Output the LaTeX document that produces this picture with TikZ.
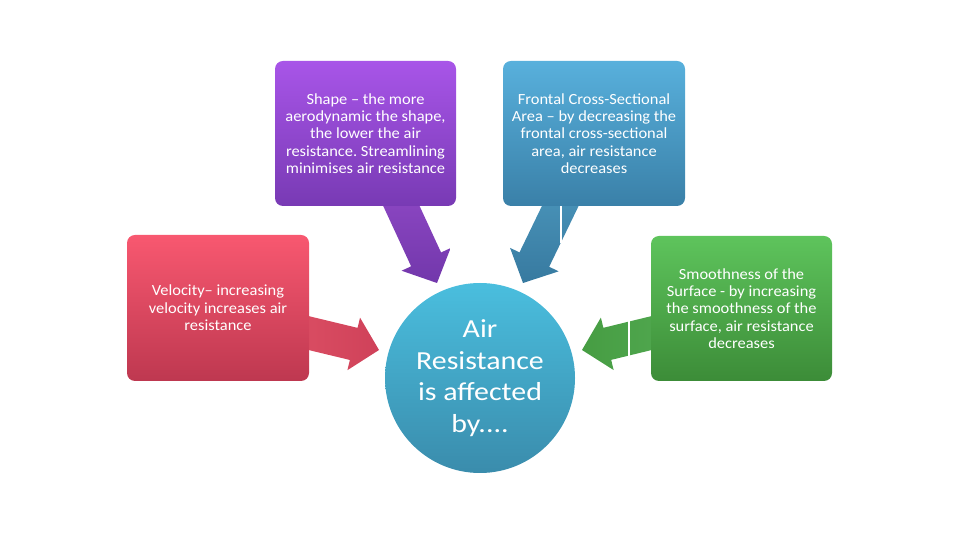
\documentclass[tikz,border=0pt]{standalone}
\usepackage{fontspec}
\setmainfont{Carlito}
\newfontfamily\boxfont[FakeStretch=1.06, Ligatures=TeX]{Carlito}
\newfontfamily\hubfont[FakeStretch=1.15, Ligatures=TeX]{Carlito}
\frenchspacing
\usetikzlibrary{calc,positioning}
\definecolor{shptop}{HTML}{A855E8}
\definecolor{shpbot}{HTML}{783AB4}
\definecolor{frotop}{HTML}{58B0DC}
\definecolor{frobot}{HTML}{3A80A8}
\definecolor{veltop}{HTML}{F85870}
\definecolor{velbot}{HTML}{BE3850}
\definecolor{smotop}{HTML}{5EC45C}
\definecolor{smobot}{HTML}{3C8C38}
\definecolor{airtop}{HTML}{4ABEDE}
\definecolor{airbot}{HTML}{3A8CAC}
\tikzset{
  blk/.style={rounded corners=8pt, minimum width=181pt, minimum height=145pt,
              align=center, text=white, inner sep=0pt,
              font={\boxfont\fontsize{15.5}{17.4}\selectfont}},
  hub/.style={circle, minimum size=190pt, inner sep=0pt, align=center, text=white,
              top color=airtop, bottom color=airbot,
              font={\hubfont\fontsize{26}{31.5}\selectfont}},
  parr/.style={top color=shptop!85!black, bottom color=shpbot!95!black},
  barr/.style={top color=frotop!85!black, bottom color=frobot!95!black},
  rarr/.style={left color=veltop!88!black, right color=velbot!70!veltop},
  garr/.style={left color=smobot!70!smotop, right color=smotop!85!black},
  seam/.style={white, line width=1.2pt},
}
% block arrow: style, start, tip
\newcommand{\blockarr}[3]{%
  \coordinate (hb) at ($(#3)!26pt!(#2)$);
  \shade[#1] ($(#2)!16.5pt!90:(#3)$) -- ($(hb)!16.5pt!90:(#3)$) -- ($(hb)!27pt!90:(#3)$)
    -- (#3) -- ($(hb)!27pt!-90:(#3)$) -- ($(hb)!16.5pt!-90:(#3)$)
    -- ($(#2)!16.5pt!-90:(#3)$) -- cycle;}

\begin{document}
\begin{tikzpicture}[x=1pt, y=1pt]
  \useasboundingbox (0,0) rectangle (960,540);
  % arrows first, boxes on top
  \coordinate (shp-s) at (394,350); \coordinate (shp-t) at (437,257);
  \coordinate (fro-s) at (568,350); \coordinate (fro-t) at (523,257);
  \coordinate (vel-s) at (300,209); \coordinate (vel-t) at (379,190);
  \coordinate (smo-s) at (660,209); \coordinate (smo-t) at (582,190);
  \blockarr{parr}{shp-s}{shp-t}
  \blockarr{barr}{fro-s}{fro-t}
  \blockarr{rarr}{vel-s}{vel-t}
  \blockarr{garr}{smo-s}{smo-t}
  \draw[seam] (561,335) -- (561,297);
  \draw[seam] (629,219) -- (629,184);

  \node[blk, top color=shptop, bottom color=shpbot] (shp) at (365.5,406.5)
    {Shape – the more\\aerodynamic the shape,\\the lower the air\\resistance. Streamlining\\minimises air resistance};
  \node[blk, top color=frotop, bottom color=frobot, minimum width=182pt] (fro) at (594,406.5)
    {Frontal Cross-Sectional\\Area – by decreasing the\\frontal cross-sectional\\area, air resistance\\decreases};
  \node[blk, top color=veltop, bottom color=velbot, minimum width=182pt, minimum height=146pt] (vel) at (218,232)
    {Velocity– increasing\\velocity increases air\\resistance};
  \node[blk, top color=smotop, bottom color=smobot] (smo) at (741.5,231.5)
    {Smoothness of the\\Surface - by increasing\\the smoothness of the\\surface, air resistance\\decreases};
  \node[hub] (air) at (480,162) {Air\\Resistance\\is affected\\by....};
\end{tikzpicture}
\end{document}
